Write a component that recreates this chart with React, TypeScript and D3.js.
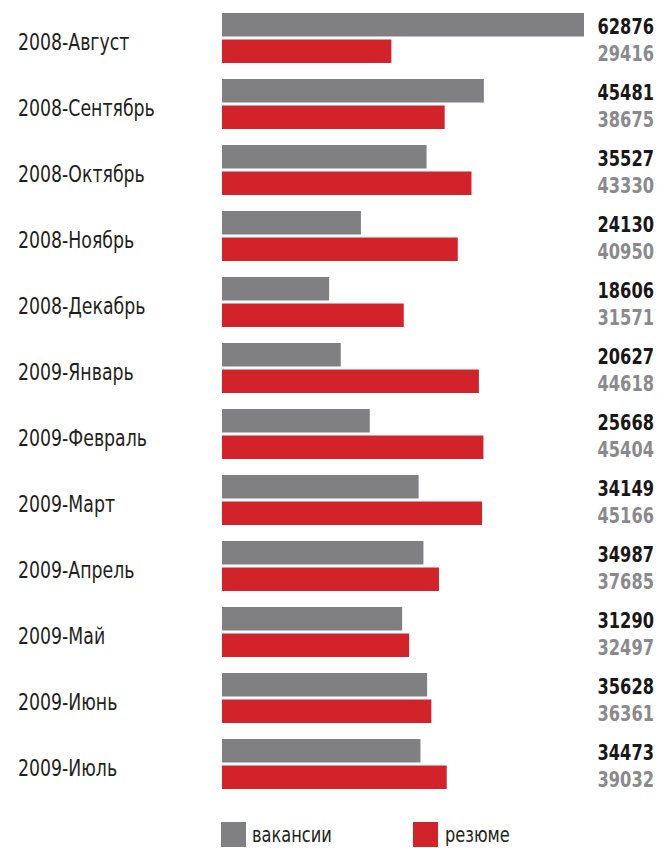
import React from "react";
import * as d3 from "d3";

const categories = [
  "2008-Август", "2008-Сентябрь", "2008-Октябрь", "2008-Ноябрь", "2008-Декабрь",
  "2009-Январь", "2009-Февраль", "2009-Март", "2009-Апрель", "2009-Май",
  "2009-Июнь", "2009-Июль",
];
const vacancies = [62876, 45481, 35527, 24130, 18606, 20627, 25668, 34149, 34987, 31290, 35628, 34473];
const resumes = [29416, 38675, 43330, 40950, 31571, 44618, 45404, 45166, 37685, 32497, 36361, 39032];
const legendLabels = ["вакансии", "резюме"];

const GRAY = "#808083";
const RED = "#d2232a";
const FONT = "'DejaVu Sans Condensed', 'DejaVu Sans', sans-serif";

export default function App() {
  const W = 658, H = 848;
  const x = d3.scaleLinear().domain([0, d3.max(vacancies) as number]).range([222, 584]);
  const y = d3.scaleBand<number>().domain(d3.range(categories.length)).range([13, 13 + 66 * 12]);
  const barH = 23.5;
  const gap = 3;
  return (
    <svg width={W} height={H} style={{ position: "absolute", left: 0, top: 0, background: "#fff" }}>
      {categories.map((c, i) => {
        const top = y(i) as number;
        return (
          <g key={c}>
            <g transform={`translate(18,${top + 37}) scale(0.82,1)`}>
              <text x={0} y={0} fontFamily={FONT} fontSize={23.5} fill="#231f20">{c}</text>
            </g>
            <rect x={x(0)} y={top} width={x(vacancies[i]) - x(0)} height={barH} fill={GRAY} />
            <rect x={x(0)} y={top + barH + gap} width={x(resumes[i]) - x(0)} height={barH} fill={RED} />
            <g transform={`translate(654,${top + 21}) scale(0.82,1)`}>
              <text x={0} y={0} textAnchor="end" fontFamily={FONT} fontWeight="bold" fontSize={22}
                fill="#1a1718">{vacancies[i]}</text>
            </g>
            <g transform={`translate(654,${top + 47.5}) scale(0.82,1)`}>
              <text x={0} y={0} textAnchor="end" fontFamily={FONT} fontWeight="bold" fontSize={22}
                fill="#8a8a8c">{resumes[i]}</text>
            </g>
          </g>
        );
      })}
      <rect x={221} y={822} width={25} height={25} fill={GRAY} />
      <g transform="translate(252,842) scale(0.82,1)">
        <text x={0} y={0} fontFamily={FONT} fontSize={22} fill="#231f20">{legendLabels[0]}</text>
      </g>
      <rect x={413} y={822} width={25} height={25} fill={RED} />
      <g transform="translate(445,842) scale(0.82,1)">
        <text x={0} y={0} fontFamily={FONT} fontSize={22} fill="#231f20">{legendLabels[1]}</text>
      </g>
    </svg>
  );
}
